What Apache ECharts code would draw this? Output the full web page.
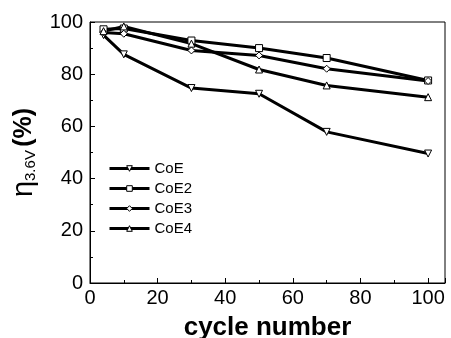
<!DOCTYPE html>
<html>
<head>
<meta charset="utf-8">
<script src="https://cdn.jsdelivr.net/npm/echarts@6/dist/echarts.min.js"></script>
<style>
  html, body { margin: 0; padding: 0; background: #fff; }
  #main { width: 451px; height: 338px; }
</style>
</head>
<body>
<div id="main"></div>
<script>
// cycle numbers and efficiency values
var cycles = [4, 10, 30, 50, 70, 100];
var coE  = [95.0, 87.6, 74.7, 72.5, 57.9, 49.6];
var coE2 = [97.2, 97.5, 92.9, 90.0, 86.2, 77.6];
var coE3 = [96.0, 95.5, 89.1, 87.2, 82.1, 77.4];
var coE4 = [96.5, 98.3, 91.7, 81.8, 75.7, 71.2];
var names = ['CoE', 'CoE2', 'CoE3', 'CoE4'];
var symbols = ['triangle', 'rect', 'diamond', 'triangle'];
var rotations = [180, 0, 0, 0];
var values = [coE, coE2, coE3, coE4];

var chart = echarts.init(document.getElementById('main'));
var font = 'Liberation Sans, Arial, sans-serif';

function pairs(ys) {
    return cycles.map(function (x, i) { return [x, ys[i]]; });
}

var series = names.map(function (n, k) {
    return {
        name: n,
        type: 'line',
        data: pairs(values[k]),
        symbol: symbols[k],
        symbolRotate: rotations[k],
        symbolSize: 7,
        lineStyle: { color: '#000', width: 3 },
        itemStyle: { color: '#fff', borderColor: '#000', borderWidth: 1 },
        emphasis: { disabled: true }
    };
});

var option = {
    animation: false,
    backgroundColor: '#fff',
    grid: {
        left: 90, right: 6, top: 22, bottom: 55,
        outerBoundsMode: 'none',
        show: true, borderColor: '#000', borderWidth: 1
    },
    legend: {
        orient: 'vertical',
        left: 103, top: 156,
        itemWidth: 40, itemHeight: 7, itemGap: 5,
        itemStyle: { color: '#fff', borderColor: '#000', borderWidth: 1 },
        lineStyle: { color: '#000', width: 3 },
        textStyle: { fontFamily: font, fontSize: 15, color: '#000' },
        data: names
    },
    xAxis: {
        type: 'value', min: 0, max: 105, interval: 20,
        name: 'cycle number', nameLocation: 'middle', nameGap: 32,
        nameTextStyle: { fontFamily: font, fontSize: 26, fontWeight: 'bold', color: '#000' },
        axisLine: { lineStyle: { color: '#000', width: 1 } },
        axisTick: { inside: true, length: 5, lineStyle: { color: '#000' } },
        minorTick: { show: true, splitNumber: 2, length: 3, lineStyle: { color: '#000' } },
        splitLine: { show: false },
        axisLabel: {
            fontFamily: font, fontSize: 20, color: '#000', margin: 5,
            showMaxLabel: false,
            formatter: function (v) { return v % 20 === 0 ? String(v) : ''; }
        }
    },
    yAxis: {
        type: 'value', min: 0, max: 100, interval: 20,
        name: '{e|η}{s|3.6V} {b|(%)}', nameLocation: 'middle', nameGap: 50, nameRotate: 90,
        nameTextStyle: {
            color: '#000',
            rich: {
                e: { fontFamily: font, fontSize: 29, color: '#000' },
                s: { fontFamily: font, fontSize: 15, color: '#000', verticalAlign: 'bottom', padding: [13, 0, 0, 0] },
                b: { fontFamily: font, fontSize: 25, fontWeight: 'bold', color: '#000' }
            }
        },
        axisLine: { show: true, lineStyle: { color: '#000', width: 1 } },
        axisTick: { show: true, inside: true, length: 5, lineStyle: { color: '#000' } },
        minorTick: { show: true, splitNumber: 2, length: 3, lineStyle: { color: '#000' } },
        splitLine: { show: false },
        axisLabel: { fontFamily: font, fontSize: 20, color: '#000', margin: 7 }
    },
    series: series
};

chart.setOption(option);
</script>
</body>
</html>
